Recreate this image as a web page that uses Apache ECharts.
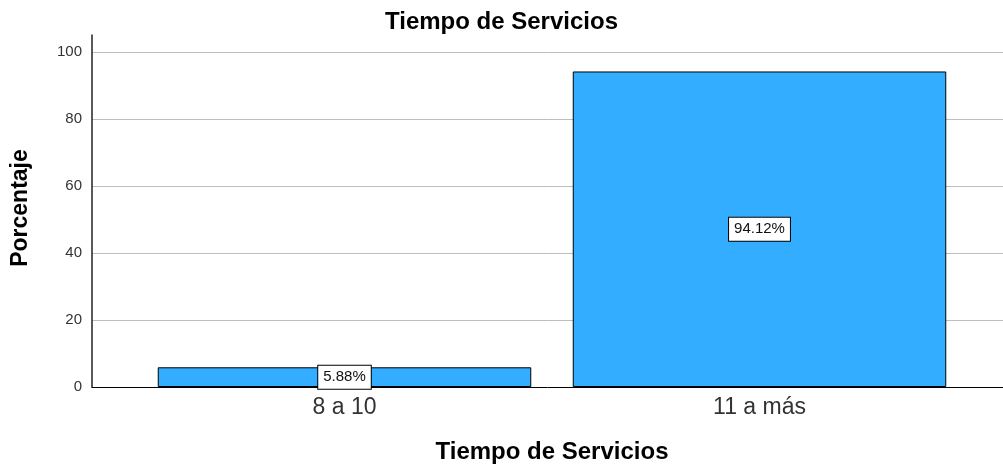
<!DOCTYPE html>
<html>
<head>
<meta charset="utf-8">
<script src="https://cdn.jsdelivr.net/npm/echarts@6/dist/echarts.min.js"></script>
<style>html,body{margin:0;padding:0;background:#fff}#c{width:1003px;height:465px}</style>
</head>
<body>
<div id="c"></div>
<script>
const chartTitle = 'Tiempo de Servicios';
const xAxisTitle = 'Tiempo de Servicios';
const yAxisTitle = 'Porcentaje';
const categories = ['8 a 10', '11 a más'];
const percentages = [5.88, 94.12];
const yMin = 0, yMax = 105, yInterval = 20;

const FONT = 'Liberation Sans, Arial, sans-serif';
const chart = echarts.init(document.getElementById('c'), null, {renderer: 'canvas'});
chart.setOption({
  animation: false,
  backgroundColor: '#fff',
  title: {
    text: chartTitle, left: 'center', top: 5,
    textStyle: {fontFamily: FONT, fontSize: 24, fontWeight: 'bold', color: '#000'}
  },
  grid: [
    {left: 92, right: 0, top: 35, bottom: 78, outerBoundsMode: 'none', containLabel: false},
    {left: 137, width: 830, top: 35, bottom: 78, outerBoundsMode: 'none', containLabel: false}
  ],
  xAxis: [
    {gridIndex: 0, type: 'value', min: 0, max: 1, axisLine: {show: true, onZero: false, lineStyle: {color: '#000', width: 1}},
     axisTick: {show: false}, axisLabel: {show: false}, splitLine: {show: false}},
    {gridIndex: 1, type: 'category', data: categories,
     axisLine: {show: false}, axisTick: {show: false},
     axisLabel: {fontFamily: FONT, fontSize: 23, color: '#333', margin: 9},
     name: xAxisTitle, nameLocation: 'middle', nameGap: 53,
     nameTextStyle: {fontFamily: FONT, fontSize: 24, fontWeight: 'bold', color: '#000'}}
  ],
  yAxis: [
    {gridIndex: 0, type: 'value', min: yMin, max: yMax, interval: yInterval,
     axisLine: {show: true, lineStyle: {color: '#222', width: 1.5}},
     axisTick: {show: false},
     axisLabel: {fontFamily: FONT, fontSize: 15, color: '#333', margin: 10, showMaxLabel: false},
     splitLine: {show: true, showMinLine: false, showMaxLine: false, lineStyle: {color: '#bdbdbd', width: 1}},
     name: yAxisTitle, nameLocation: 'middle', nameGap: 60, nameRotate: 90,
     nameTextStyle: {fontFamily: FONT, fontSize: 23, fontWeight: 'bold', color: '#000', padding: [0, 0, 0, 6]}},
    {gridIndex: 1, type: 'value', min: yMin, max: yMax, interval: yInterval, show: false}
  ],
  series: [{
    type: 'bar', xAxisIndex: 1, yAxisIndex: 1, data: percentages, barWidth: '90%',
    itemStyle: {color: '#33adff', borderColor: '#000', borderWidth: 1},
    label: {
      show: true, position: 'inside',
      formatter: p => p.value.toFixed(2) + '%',
      fontFamily: FONT, fontSize: 15, color: '#111',
      backgroundColor: '#fff', borderColor: '#000', borderWidth: 1, padding: [4, 5]
    }
  }]
});
</script>
</body>
</html>
